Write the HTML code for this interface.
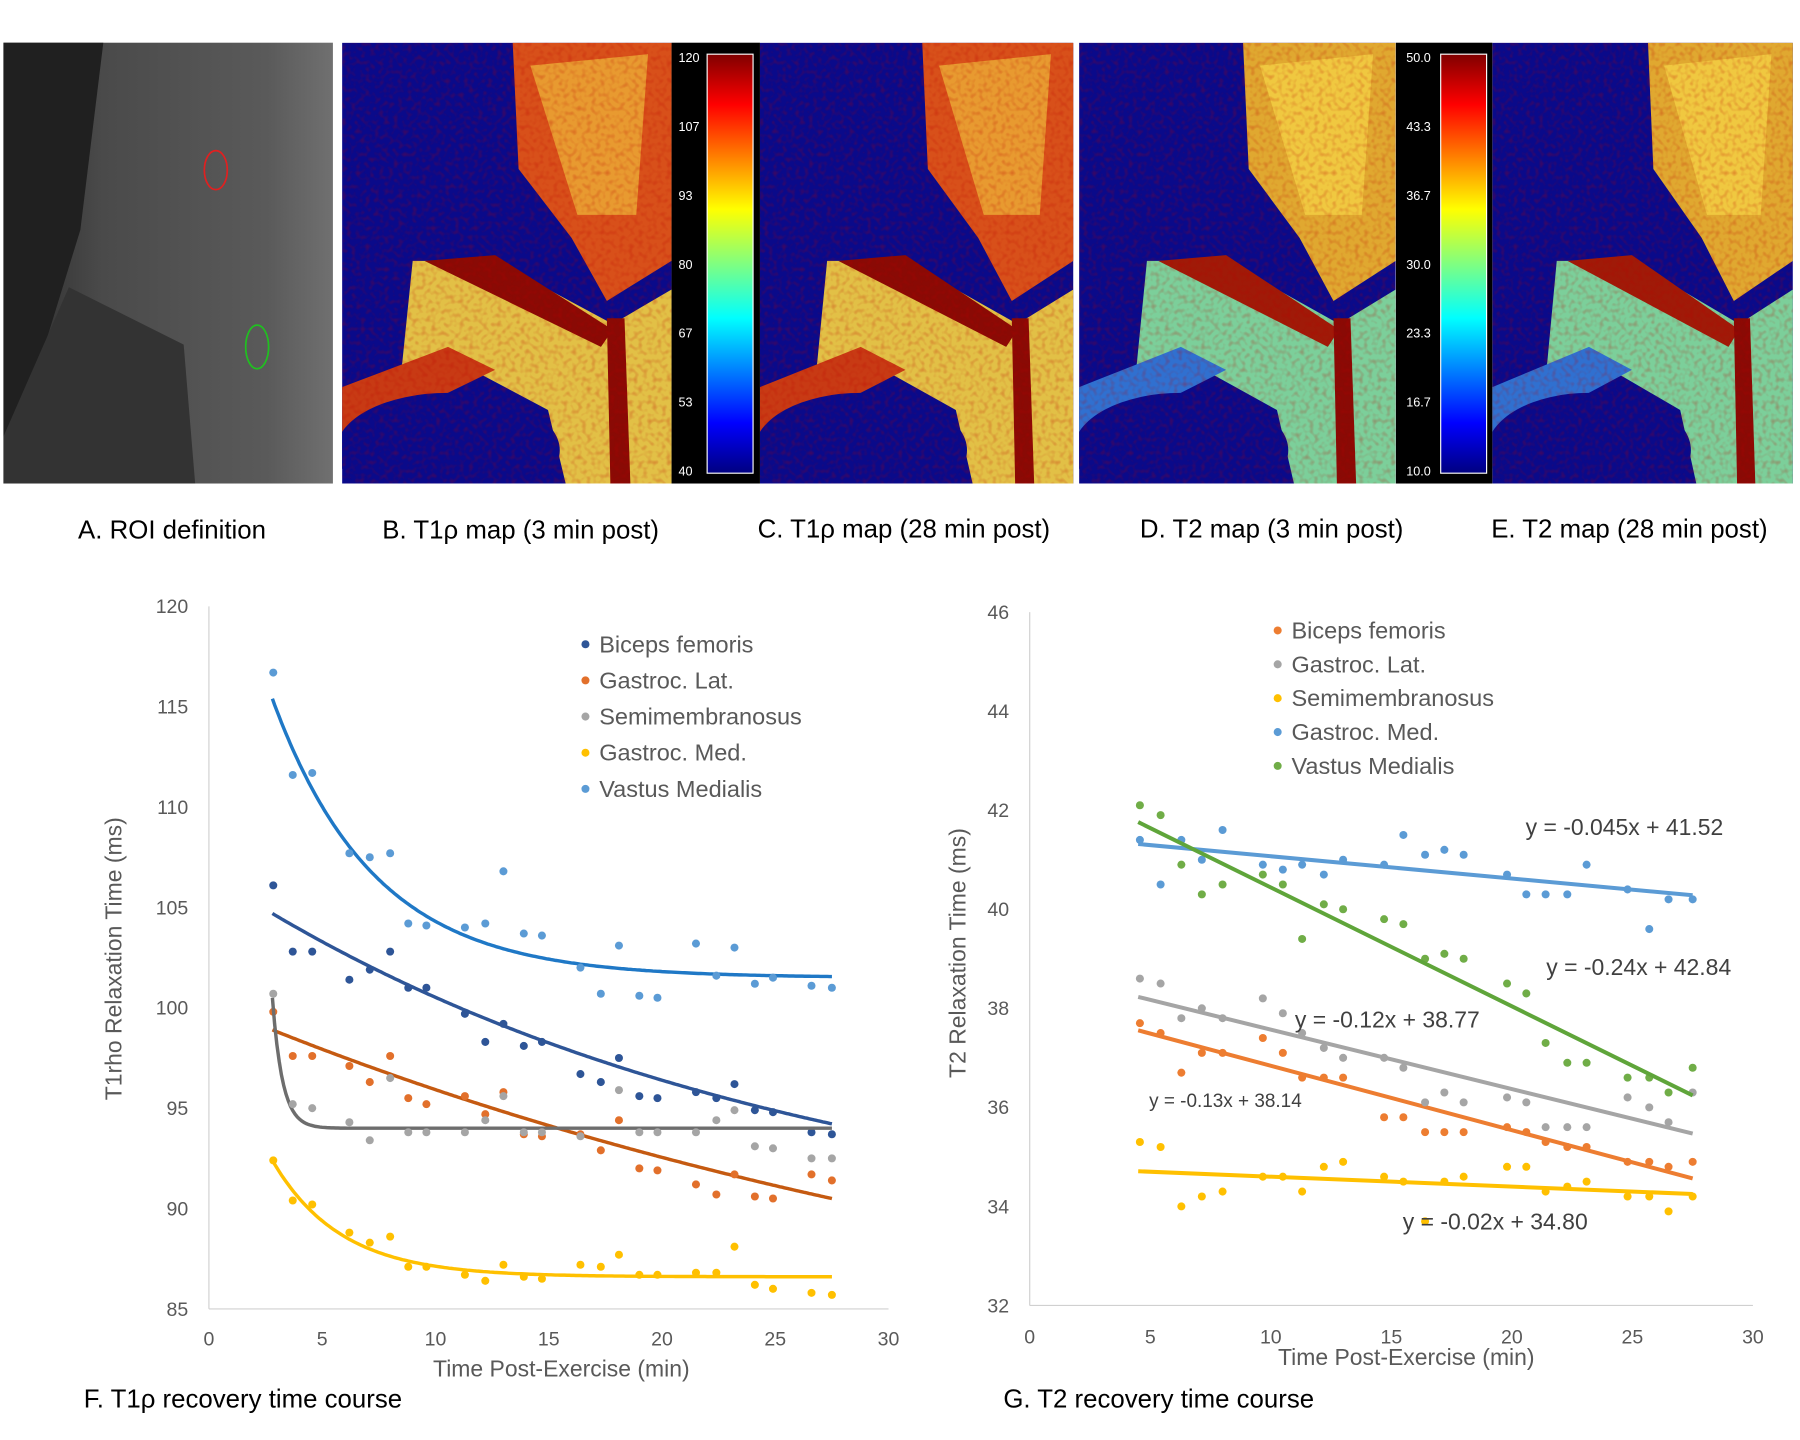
<!DOCTYPE html>
<html><head><meta charset="utf-8"><style>
html,body{margin:0;padding:0;background:#fff}
svg{display:block}
text{font-family:"Liberation Sans",sans-serif}
</style></head><body>
<svg id="fig" width="1800" height="1440" viewBox="0 0 1568 1254" xmlns="http://www.w3.org/2000/svg">
<defs>
<clipPath id="mapclip"><rect x="0" y="0" width="280" height="384"/></clipPath>
<linearGradient id="jet" x1="0" y1="0" x2="0" y2="1">
<stop offset="0" stop-color="#800000"/><stop offset="0.12" stop-color="#ff0000"/><stop offset="0.37" stop-color="#ffff00"/><stop offset="0.5" stop-color="#80ff80"/><stop offset="0.63" stop-color="#00ffff"/><stop offset="0.88" stop-color="#0000ff"/><stop offset="1" stop-color="#000080"/>
</linearGradient>
<linearGradient id="grayA" x1="0" y1="0" x2="1" y2="0">
<stop offset="0" stop-color="#2a2a2a"/><stop offset="0.3" stop-color="#4a4a4a"/><stop offset="0.8" stop-color="#5a5a5a"/><stop offset="1" stop-color="#707070"/>
</linearGradient>
<filter id="speck"><feTurbulence type="fractalNoise" baseFrequency="0.25" numOctaves="1" seed="3"/><feColorMatrix values="0 0 0 0 0.5  0 0 0 0 0  0 0 0 0 0  0 0 0 1.2 -0.55"/><feComposite in2="SourceGraphic" operator="in"/></filter>
<g id="t1map" clip-path="url(#mapclip)">
<rect width="280" height="384" fill="#0a0a8a"/>
<polygon points="145,0 280,0 280,190 225,225 195,170 150,110" fill="#d8501a"/>
<polygon points="160,20 260,10 250,150 200,150" fill="#e89a30"/>
<polygon points="60,190 130,190 230,245 280,215 280,384 190,384 175,320 120,290 50,290" fill="#e2c046"/>
<polygon points="0,300 90,265 130,285 40,330 0,340" fill="#c83a14"/>
<polygon points="70,190 130,185 230,250 220,265 120,215" fill="#8a0a05"/>
<ellipse cx="90" cy="355" rx="95" ry="50" fill="#0a0a8a"/>
<polygon points="225,240 240,240 245,384 228,384" fill="#8a0a05"/>
<rect width="280" height="384" fill="#000" filter="url(#speck)" opacity="0.6"/>
</g>
<g id="t2map" clip-path="url(#mapclip)">
<rect width="280" height="384" fill="#0a0a8a"/>
<polygon points="145,0 280,0 280,190 225,225 195,170 150,110" fill="#e0a830"/>
<polygon points="160,20 260,10 250,150 200,150" fill="#f0c840"/>
<polygon points="60,190 130,190 230,245 280,215 280,384 190,384 175,320 120,290 50,290" fill="#7ccf9a"/>
<polygon points="0,300 90,265 130,285 40,330 0,340" fill="#3070d0"/>
<polygon points="70,190 130,185 230,250 220,265 120,215" fill="#a01a08"/>
<ellipse cx="90" cy="355" rx="95" ry="50" fill="#0a0a8a"/>
<polygon points="225,240 240,240 245,384 228,384" fill="#8a0a05"/>
<rect width="280" height="384" fill="#000" filter="url(#speck)" opacity="0.6"/>
</g>
</defs>
<g>
<rect x="3" y="37" width="287" height="384" fill="url(#grayA)"/>
<polygon points="3,37 90,37 70,200 30,330 3,380" fill="#202020"/>
<polygon points="60,250 160,300 170,421 3,421 3,380" fill="#333"/>
<ellipse cx="188" cy="148" rx="10" ry="17" fill="none" stroke="#e02020" stroke-width="1.5"/>
<ellipse cx="224" cy="302" rx="10" ry="19" fill="none" stroke="#20c020" stroke-width="1.5"/>
</g>
<g><use href="#t1map" transform="translate(298,37) scale(1.025,1)"/></g>
<g><use href="#t1map" transform="translate(662,37) scale(0.975,1)"/></g>
<g><use href="#t2map" transform="translate(940,37) scale(0.985,1)"/></g>
<g><use href="#t2map" transform="translate(1300,37) scale(0.935,1)"/></g>
<g>
<rect x="585" y="37" width="77" height="384" fill="#000"/>
<rect x="616" y="47" width="40" height="365" fill="url(#jet)" stroke="#fff" stroke-width="1"/>
</g>
<g>
<rect x="1216" y="37" width="84" height="384" fill="#000"/>
<rect x="1255" y="47" width="40" height="365" fill="url(#jet)" stroke="#fff" stroke-width="1"/>
</g>
<g id="cbtext" font-size="11" fill="#fff"></g>
<g font-size="22.5" fill="#000">
<text x="68" y="469">A. ROI definition</text>
<text x="333" y="469">B. T1ρ map (3 min post)</text>
<text x="660" y="468">C. T1ρ map (28 min post)</text>
<text x="993" y="468">D. T2 map (3 min post)</text>
<text x="1299" y="468">E. T2 map (28 min post)</text>
<text x="73" y="1226">F. T1ρ recovery time course</text>
<text x="874" y="1226">G. T2 recovery time course</text>
</g>
<g id="chartF"></g>
<g id="chartG"></g>
</svg>
<script>
const cbT1Labels=["120","107","93","80","67","53","40"];
const cbT2Labels=["50.0","43.3","36.7","30.0","23.3","16.7","10.0"];

const fTimes=[2.84,3.7,4.56,6.2,7.1,8.0,8.8,9.6,11.3,12.2,13.0,13.9,14.7,16.4,17.3,18.1,19.0,19.8,21.5,22.4,23.2,24.1,24.9,26.6,27.5];
const fBiceps=[106.1,102.8,102.8,101.4,101.9,102.8,101.0,101.0,99.7,98.3,99.2,98.1,98.3,96.7,96.3,97.5,95.6,95.5,95.8,95.5,96.2,94.9,94.8,93.8,93.7];
const fGastLat=[99.8,97.6,97.6,97.1,96.3,97.6,95.5,95.2,95.6,94.7,95.8,93.7,93.6,93.7,92.9,94.4,92.0,91.9,91.2,90.7,91.7,90.6,90.5,91.7,91.4];
const fSemi=[100.7,95.2,95.0,94.3,93.4,96.5,93.8,93.8,93.8,94.4,95.6,93.8,93.8,93.6,null,95.9,93.8,93.8,93.8,94.4,94.9,93.1,93.0,92.5,92.5];
const fGastMed=[92.4,90.4,90.2,88.8,88.3,88.6,87.1,87.1,86.7,86.4,87.2,86.6,86.5,87.2,87.1,87.7,86.7,86.7,86.8,86.8,88.1,86.2,86.0,85.8,85.7];
const fVastus=[116.7,111.6,111.7,107.7,107.5,107.7,104.2,104.1,104.0,104.2,106.8,103.7,103.6,102.0,100.7,103.1,100.6,100.5,103.2,101.6,103.0,101.2,101.5,101.1,101.0];
const fFitBiceps=[88,16.7,25];
const fFitGastLat=[80,18.9,42];
const fFitSemi=[94,6.5,0.45];
const fFitGastMed=[86.6,5.8,3];
const fFitVastus=[101.5,13.9,4.5];
const fYTicks=[85,90,95,100,105,110,115,120];
const fXTicks=[0,5,10,15,20,25,30];
const fLegend=["Biceps femoris","Gastroc. Lat.","Semimembranosus","Gastroc. Med.","Vastus Medialis"];

const gTimes=[4.57,5.43,6.29,7.14,8.0,9.67,10.5,11.3,12.2,13.0,14.7,15.5,16.4,17.2,18.0,19.8,20.6,21.4,22.3,23.1,24.8,25.7,26.5,27.5];
const gBiceps=[37.7,37.5,36.7,37.1,37.1,37.4,37.1,36.6,36.6,36.6,35.8,35.8,35.5,35.5,35.5,35.6,35.5,35.3,35.2,35.2,34.9,34.9,34.8,34.9];
const gGastLat=[38.6,38.5,37.8,38.0,37.8,38.2,37.9,37.5,37.2,37.0,37.0,36.8,36.1,36.3,36.1,36.2,36.1,35.6,35.6,35.6,36.2,36.0,35.7,36.3];
const gSemi=[35.3,35.2,34.0,34.2,34.3,34.6,34.6,34.3,34.8,34.9,34.6,34.5,33.7,34.5,34.6,34.8,34.8,34.3,34.4,34.5,34.2,34.2,33.9,34.2];
const gGastMed=[41.4,40.5,41.4,41.0,41.6,40.9,40.8,40.9,40.7,41.0,40.9,41.5,41.1,41.2,41.1,40.7,40.3,40.3,40.3,40.9,40.4,39.6,40.2,40.2];
const gVastus=[42.1,41.9,40.9,40.3,40.5,40.7,40.5,39.4,40.1,40.0,39.8,39.7,39.0,39.1,39.0,38.5,38.3,37.3,36.9,36.9,36.6,36.6,36.3,36.8];
const gSlopes=[-0.13,-0.12,-0.02,-0.045,-0.24];
const gIntercepts=[38.14,38.77,34.80,41.52,42.84];
const gEqLabels=["y = -0.13x + 38.14","y = -0.12x + 38.77","y = -0.02x + 34.80","y = -0.045x + 41.52","y = -0.24x + 42.84"];
const gYTicks=[32,34,36,38,40,42,44,46];
const gXTicks=[0,5,10,15,20,25,30];
const gLegend=["Biceps femoris","Gastroc. Lat.","Semimembranosus","Gastroc. Med.","Vastus Medialis"];

const NS="http://www.w3.org/2000/svg";
function mk(parent,tag,attrs,txt){const e=document.createElementNS(NS,tag);for(const k in attrs)e.setAttribute(k,attrs[k]);if(txt!==undefined)e.textContent=txt;parent.appendChild(e);return e;}

const cbg=document.getElementById('cbtext');
cbT1Labels.forEach((l,i)=>{const t=mk(cbg,'text',{x:591,y:54+i*60});t.textContent=l;

});
cbT2Labels.forEach((l,i)=>{const t=mk(cbg,'text',{x:1225,y:54+i*60});t.textContent=l;

});

(function(){
const g=document.getElementById('chartF');
const x0=182,x1=774,y0=1140,y1=528;
const X=v=>x0+(v-0)/30*(x1-x0);
const Y=v=>y0-(v-85)/35*(y0-y1);
let a=mk(g,'line',{x1:x0,y1:y1,x2:x0,y2:y0,stroke:'#d0d0d0','stroke-width':1});

a=mk(g,'line',{x1:x0,y1:y0,x2:x1,y2:y0,stroke:'#d0d0d0','stroke-width':1});

fYTicks.forEach(v=>{const t=mk(g,'text',{x:164,y:Y(v)+6,'text-anchor':'end','font-size':17,fill:'#595959'},String(v));

});
fXTicks.forEach(v=>{const t=mk(g,'text',{x:X(v),y:1172,'text-anchor':'middle','font-size':17,fill:'#595959'},String(v));

});
let t=mk(g,'text',{x:489,y:1199,'text-anchor':'middle','font-size':20,fill:'#595959'},'Time Post-Exercise (min)');

t=mk(g,'text',{x:0,y:0,'text-anchor':'middle','font-size':20,fill:'#595959',transform:'translate(106,835) rotate(-90)'},'T1rho Relaxation Time (ms)');

const series=[[fBiceps,fFitBiceps,'#2e5597','#2e5597'],[fGastLat,fFitGastLat,'#e2702b','#c55a11'],[fSemi,fFitSemi,'#a5a5a5','#6d6d6d'],[fGastMed,fFitGastMed,'#ffc000','#ffc000'],[fVastus,fFitVastus,'#5b9bd5','#1f78c6']];
series.forEach((s,si)=>{
 const [vals,fit,pc,lc]=s;
 let d='';
 const xs=[];for(let xv=2.8;xv<=27.55;xv+=0.1)xs.push(xv);
 xs.forEach((xv,i)=>{const yv=fit[0]+fit[1]*Math.exp(-(xv-2.8)/fit[2]);d+=(i?'L':'M')+X(xv).toFixed(1)+','+Y(yv).toFixed(1);});
 const p=mk(g,'path',{d:d,fill:'none',stroke:lc,'stroke-width':3});
 
 
 vals.forEach((v,i)=>{if(v===null)return;const c=mk(g,'circle',{cx:X(fTimes[i]),cy:Y(v),r:3.5,fill:pc});
 
 });
 const ly=561+si*31.5;
 const lc2=mk(g,'circle',{cx:510,cy:ly,r:3.5,fill:pc});
 
 
 const lt=mk(g,'text',{x:522,y:ly+7,'font-size':20.5,fill:'#595959'},fLegend[si]);
 
 
});
})();

(function(){
const g=document.getElementById('chartG');
const x0=897,x1=1527,y0=1137,y1=533;
const X=v=>x0+v/30*(x1-x0);
const Y=v=>y0-(v-32)/14*(y0-y1);
let a=mk(g,'line',{x1:x0,y1:y1,x2:x0,y2:y0,stroke:'#d0d0d0','stroke-width':1});

a=mk(g,'line',{x1:x0,y1:y0,x2:x1,y2:y0,stroke:'#d0d0d0','stroke-width':1});

gYTicks.forEach(v=>{const t=mk(g,'text',{x:879,y:Y(v)+6,'text-anchor':'end','font-size':17,fill:'#595959'},String(v));

});
gXTicks.forEach(v=>{const t=mk(g,'text',{x:X(v),y:1170,'text-anchor':'middle','font-size':17,fill:'#595959'},String(v));

});
let t=mk(g,'text',{x:1225,y:1189,'text-anchor':'middle','font-size':20,fill:'#595959'},'Time Post-Exercise (min)');

t=mk(g,'text',{x:0,y:0,'text-anchor':'middle','font-size':20,fill:'#595959',transform:'translate(841,830) rotate(-90)'},'T2 Relaxation Time (ms)');

const series=[[gBiceps,'#ed7d31','#ed7d31'],[gGastLat,'#a5a5a5','#a5a5a5'],[gSemi,'#ffc000','#ffc000'],[gGastMed,'#5b9bd5','#5b9bd5'],[gVastus,'#70ad47','#5fa53a']];
const eqPos=[[1001,964,16.5],[1128,895,20],[1222,1071,20],[1329,727,20],[1347,849,20]];
series.forEach((s,si)=>{
 const [vals,pc,lc]=s;
 vals.forEach((v,i)=>{const c=mk(g,'circle',{cx:X(gTimes[i]),cy:Y(v),r:3.5,fill:pc});
 
 });
 const xa=4.5,xb=27.5;
 const l=mk(g,'line',{x1:X(xa),y1:Y(gSlopes[si]*xa+gIntercepts[si]),x2:X(xb),y2:Y(gSlopes[si]*xb+gIntercepts[si]),stroke:lc,'stroke-width':3.5});
 
 
 const e=mk(g,'text',{x:eqPos[si][0],y:eqPos[si][1],'font-size':eqPos[si][2],fill:'#404040'},gEqLabels[si]);
 
 
 const ly=549+si*29.5;
 const lc2=mk(g,'circle',{cx:1113,cy:ly,r:3.5,fill:pc});
 
 
 const lt=mk(g,'text',{x:1125,y:ly+7,'font-size':20.5,fill:'#595959'},gLegend[si]);
 
 
});
})();
</script>
</body></html>
